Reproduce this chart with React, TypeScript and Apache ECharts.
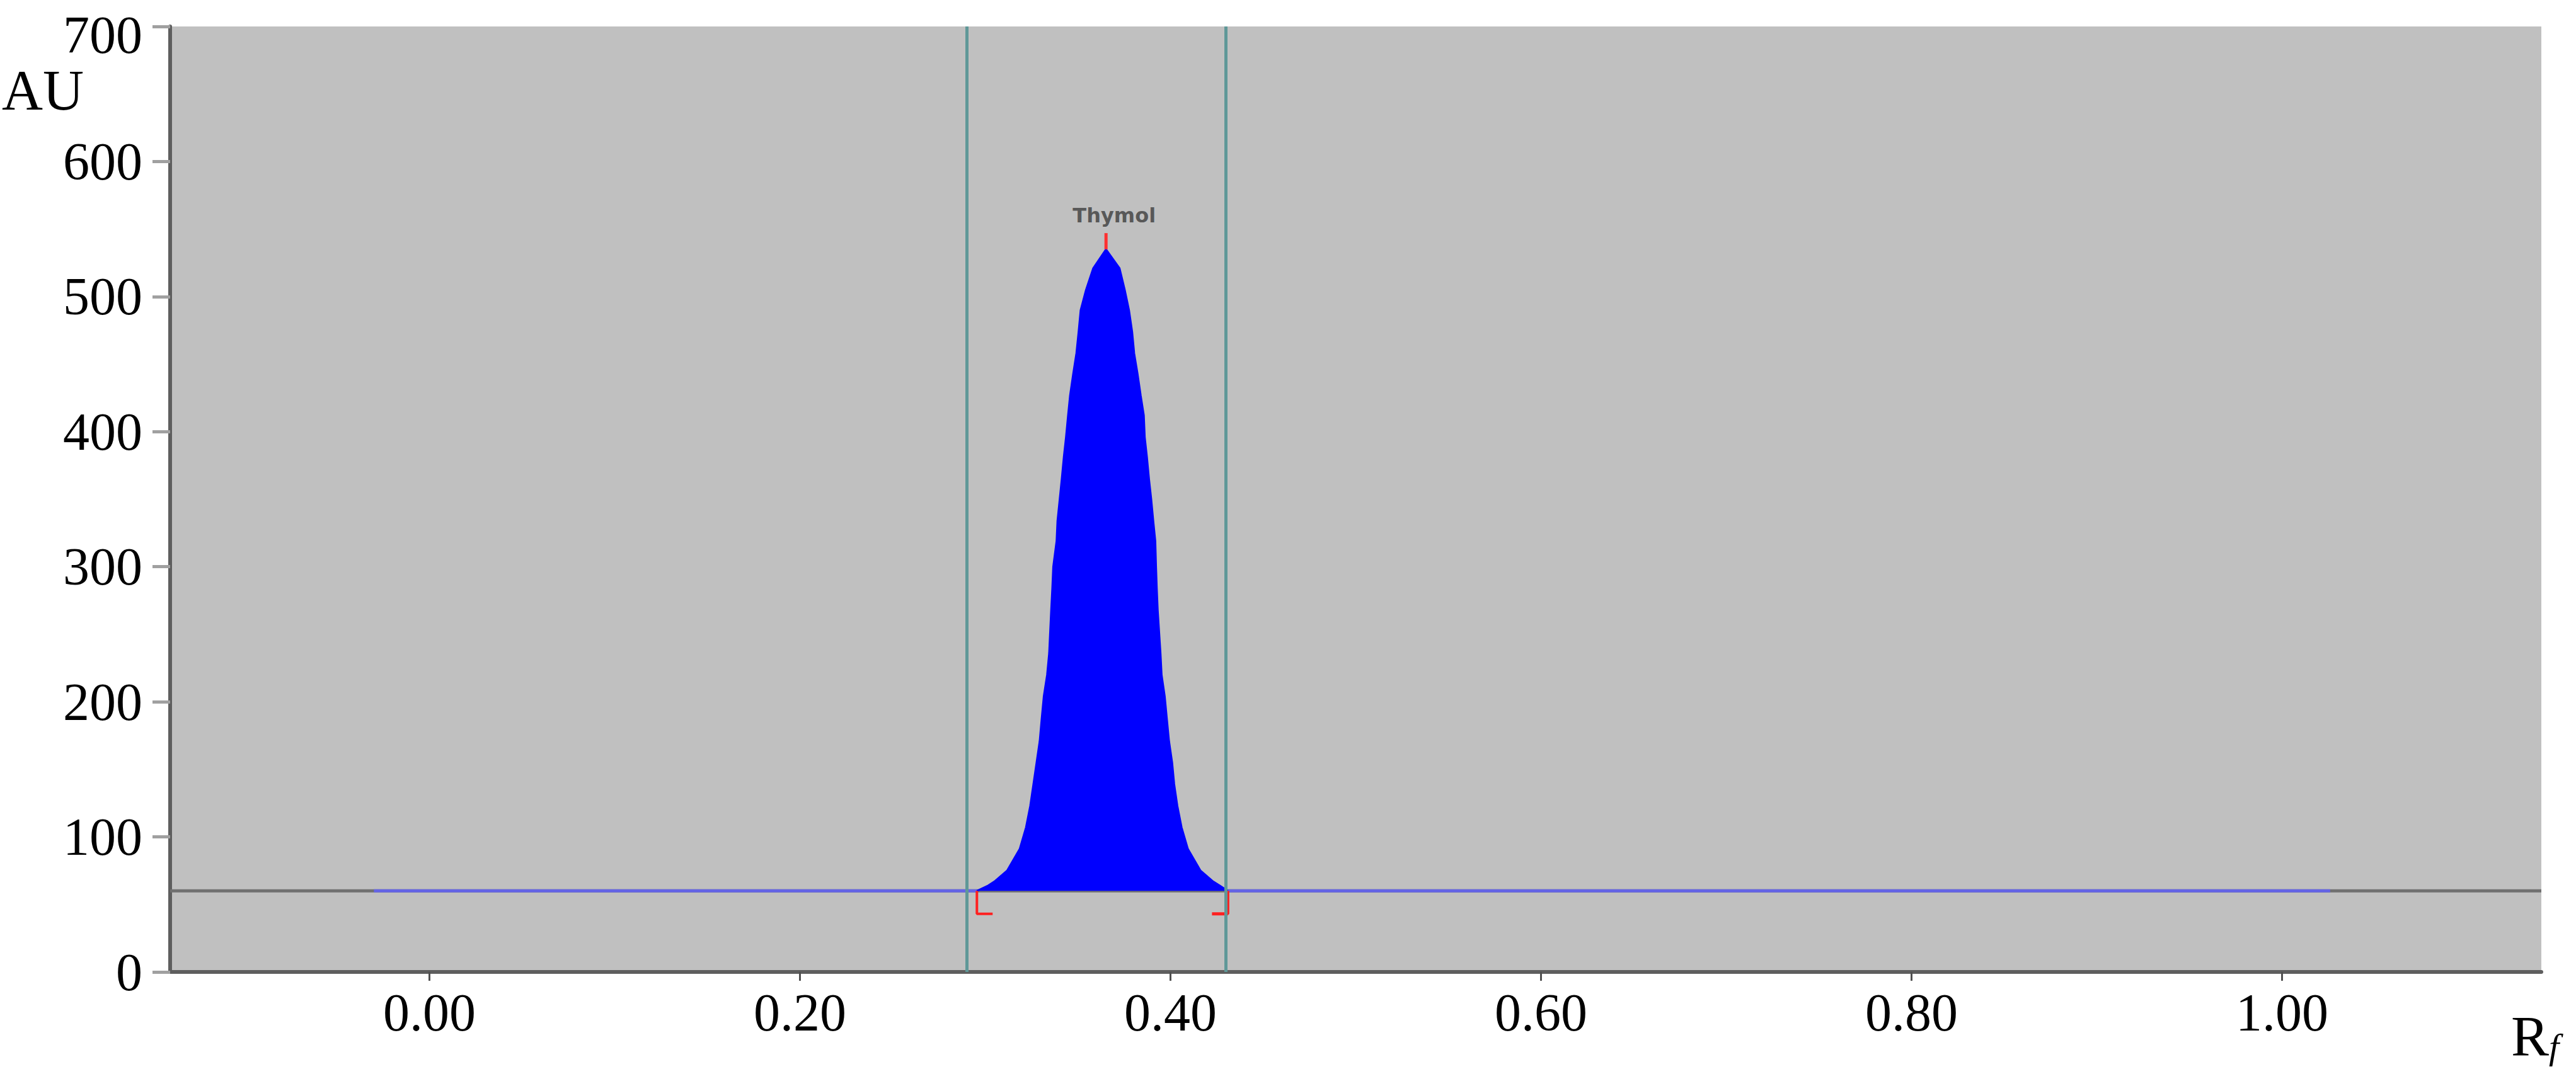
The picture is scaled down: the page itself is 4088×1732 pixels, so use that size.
import React, { useEffect, useRef } from "react";
import * as echarts from "echarts";

// ---- data ----
const yMin = 0;
const yMax = 700;
const yInterval = 100;
const xMin = -0.14;
const xMax = 1.14;
const xTickValues = [0, 0.2, 0.4, 0.6, 0.8, 1.0];

const baselineAU = 60;
const traceStartRf = -0.03;
const traceEndRf = 1.026;
const windowLinesRf = [0.2884, 0.4316];

const peakName = "Thymol";
const apexRf = 0.3652;
const apexAU = 535;
const apexTickTopAU = 547;
const peakStartRf = 0.2955;
const peakEndRf = 0.4309;
const bracketBottomAU = 43;
const bracketFootRf = 0.0085;

const peakRf = [
  0.2955, 0.3016, 0.305, 0.3118, 0.3186, 0.322, 0.3243, 0.326, 0.3277, 0.3294,
  0.3305, 0.3316, 0.3334, 0.3345, 0.3356, 0.3362, 0.3367, 0.3385, 0.339, 0.3402,
  0.3413, 0.3424, 0.3436, 0.3447, 0.3458, 0.3475, 0.3492, 0.3504, 0.3515, 0.3544,
  0.3583, 0.3652, 0.3725, 0.3753, 0.3776, 0.3793, 0.3804, 0.3822, 0.3839, 0.3856,
  0.3861, 0.3873, 0.3884, 0.3896, 0.3907, 0.3918, 0.3922, 0.3926, 0.3931, 0.3946,
  0.3952, 0.3969, 0.398, 0.3992, 0.4009, 0.402, 0.4037, 0.406, 0.4094, 0.4162,
  0.423, 0.4265, 0.4309,
];
const peakAU = [
  60, 64, 67, 75, 91, 107, 123, 139, 155, 171,
  188, 204, 220, 236, 268, 284, 300, 319, 334, 350,
  365, 381, 396, 412, 427, 443, 458, 474, 490, 505,
  521, 535, 521, 505, 490, 474, 458, 443, 427, 412,
  396, 381, 365, 350, 334, 319, 300, 284, 268, 236,
  220, 204, 188, 171, 155, 139, 123, 107, 91, 75,
  67, 64, 60,
];

const FONT_SERIF = "Liberation Serif";

export default function App() {
  const ref = useRef<HTMLDivElement>(null);

  useEffect(() => {
    if (!ref.current) return;
    const chart = echarts.init(ref.current, null, { renderer: "svg" });

    const peakPairs = peakRf.map((x, i) => [x, peakAU[i]]);

    const option: any = {
      animation: false,
      backgroundColor: "#ffffff",
      grid: {
        left: 270,
        right: 55,
        top: 42,
        bottom: 189,
        show: true,
        backgroundColor: "#c0c0c0",
        borderWidth: 0,
      },
      xAxis: {
        type: "value",
        min: xMin,
        max: xMax,
        axisLine: { show: true, onZero: false, lineStyle: { color: "#5e5e5e", width: 6 } },
        axisTick: {
          show: true,
          customValues: xTickValues,
          length: 14,
          lineStyle: { color: "#505050", width: 3 },
        },
        axisLabel: {
          show: true,
          customValues: xTickValues,
          formatter: (v: number) => v.toFixed(2),
          fontFamily: FONT_SERIF,
          fontSize: 84,
          color: "#000",
          margin: 22,
        },
        splitLine: { show: false },
      },
      yAxis: {
        type: "value",
        min: yMin,
        max: yMax,
        interval: yInterval,
        axisLine: { show: true, onZero: false, lineStyle: { color: "#5e5e5e", width: 6 } },
        axisTick: { show: true, length: 28, lineStyle: { color: "#a0a0a0", width: 5 } },
        axisLabel: {
          fontFamily: FONT_SERIF,
          fontSize: 84,
          color: "#000",
          margin: 44,
          formatter: (v: number) => (v === yMax ? "{top|" + v + "}" : String(v)),
          rich: {
            top: {
              fontFamily: FONT_SERIF,
              fontSize: 84,
              color: "#000",
              padding: [26, 0, 0, 0],
            },
          },
        },
        splitLine: { show: false },
      },
      graphic: [
        {
          type: "text",
          x: 3,
          y: 143,
          style: {
            text: "AU",
            fontFamily: FONT_SERIF,
            fontSize: 90,
            fill: "#000",
            textAlign: "left",
            textVerticalAlign: "middle",
            align: "left",
            verticalAlign: "middle",
          },
        },
        {
          type: "text",
          x: 3985,
          y: 1645,
          style: {
            text: "{r|R}{f|f}",
            fill: "#000",
            textAlign: "left",
            textVerticalAlign: "middle",
            align: "left",
            verticalAlign: "middle",
            rich: {
              r: { fontFamily: FONT_SERIF, fontSize: 90, fill: "#000", color: "#000", verticalAlign: "bottom" },
              f: {
                fontFamily: FONT_SERIF,
                fontSize: 58,
                fontStyle: "italic",
                fill: "#000",
                color: "#000",
                verticalAlign: "bottom",
              },
            },
          },
        },
      ],
      series: [
        {
          name: "baseline",
          type: "line",
          data: [[xMin, baselineAU], [xMax, baselineAU]],
          symbol: "none",
          lineStyle: { color: "#707070", width: 5 },
          z: 1,
          markLine: {
            symbol: "none",
            silent: true,
            label: { show: false },
            lineStyle: { color: "#5f9898", width: 5, type: "solid" },
            data: windowLinesRf.map((x) => ({ xAxis: x })),
          },
        },
        {
          name: "trace left",
          type: "line",
          data: [[traceStartRf, baselineAU], [peakStartRf, baselineAU]],
          symbol: "none",
          lineStyle: { color: "#6464e6", width: 5 },
          z: 3,
        },
        {
          name: "trace right",
          type: "line",
          data: [[peakEndRf, baselineAU], [traceEndRf, baselineAU]],
          symbol: "none",
          lineStyle: { color: "#6464e6", width: 5 },
          z: 3,
        },
        {
          name: "peak",
          type: "line",
          data: peakPairs,
          symbol: "none",
          lineStyle: { color: "#0000ff", width: 3 },
          areaStyle: { color: "#0000ff", opacity: 1, origin: baselineAU },
          z: 3,
        },
        {
          name: "left bracket",
          type: "line",
          data: [
            [peakStartRf, baselineAU],
            [peakStartRf, bracketBottomAU],
            [peakStartRf + bracketFootRf, bracketBottomAU],
          ],
          symbol: "none",
          lineStyle: { color: "#ff2020", width: 4 },
          z: 4,
        },
        {
          name: "right bracket",
          type: "line",
          data: [
            [peakEndRf, baselineAU],
            [peakEndRf, bracketBottomAU],
            [peakEndRf - bracketFootRf, bracketBottomAU],
          ],
          symbol: "none",
          lineStyle: { color: "#ff2020", width: 5 },
          z: 4,
        },
        {
          name: "apex tick",
          type: "line",
          data: [
            [apexRf, apexAU],
            [apexRf, apexTickTopAU],
          ],
          symbol: "none",
          lineStyle: { color: "#ff3030", width: 5 },
          z: 4,
        },
        {
          name: "label",
          type: "scatter",
          data: [[apexRf, apexTickTopAU]],
          symbolSize: 1,
          itemStyle: { color: "rgba(0,0,0,0)" },
          label: {
            show: true,
            position: "top",
            distance: 12,
            offset: [13, 0],
            formatter: peakName,
            fontFamily: "DejaVu Sans",
            fontWeight: "bold",
            fontSize: 32,
            color: "#3c3c3c",
          },
          z: 5,
        },
      ],
    };

    chart.setOption(option);
    return () => chart.dispose();
  }, []);

  return (
    <div
      ref={ref}
      style={{ position: "absolute", left: 0, top: 0, width: 4088, height: 1732 }}
    />
  );
}
